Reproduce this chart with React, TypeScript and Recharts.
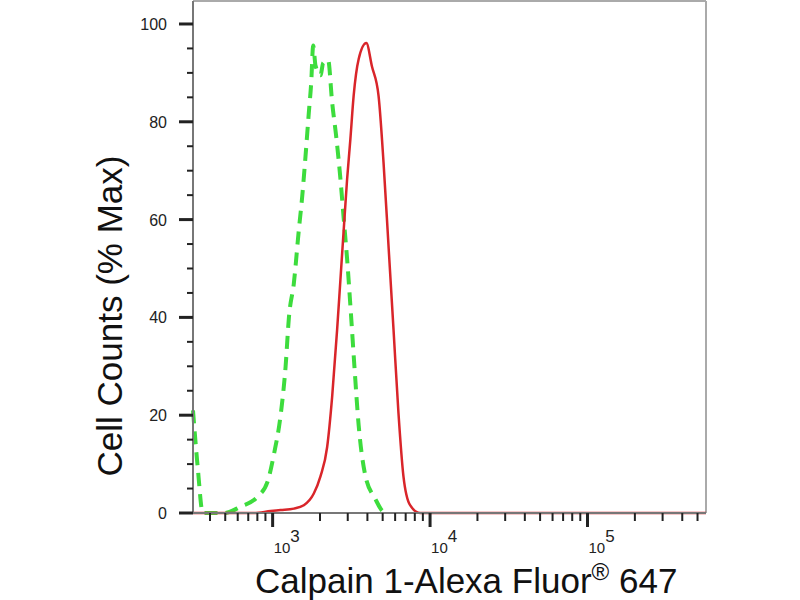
import React from "react";
import { LineChart, Line, XAxis, YAxis, ReferenceLine } from "recharts";

// fluorescence intensity (log) vs % of max
const controlX = [312, 335, 360, 490, 627, 800, 926, 1019, 1124, 1209, 1269, 1364, 1467, 1542, 1618, 1697, 1758, 1810, 1872, 2013, 2094, 2252, 2387, 2542, 2694, 2828, 2971, 3148, 3304, 3518, 3878, 4486, 5063, 5300];
const controlY = [21, 9, 0, 0, 1.3, 3.3, 6.3, 12, 20, 30, 40, 47, 57.9, 64.8, 73, 81.8, 88, 95.6, 91.5, 89.5, 92, 92.6, 84, 76.6, 68.4, 60.2, 52, 40.4, 30.2, 18, 7.7, 2.9, 0.2, 0];

const sampleX = [312, 759, 971, 1124, 1364, 1578, 1826, 2013, 2220, 2387, 2567, 2694, 2828, 2971, 3117, 3270, 3518, 3935, 4276, 4708, 5063, 5447, 5858, 6301, 6776, 7470, 8646, 566000];
const sampleY = [0, 0, 0.4, 0.6, 0.9, 1.6, 4, 7.5, 13.5, 23.7, 37.4, 47.6, 57.9, 68.2, 76.4, 85.3, 92.8, 96.1, 91.3, 85.3, 71.7, 54.6, 37.6, 20.4, 7.5, 1.6, 0, 0];

const yTicks = [0, 5, 10, 15, 20, 25, 30, 35, 40, 45, 50, 55, 60, 65, 70, 75, 80, 85, 90, 95, 100];
const yMajor = [0, 20, 40, 60, 80, 100];
const xTicks = [400, 500, 600, 700, 800, 900, 1000, 2000, 3000, 4000, 5000, 6000, 7000, 8000, 9000, 10000, 20000, 30000, 40000, 50000, 60000, 70000, 80000, 90000, 100000, 200000, 300000, 400000, 500000];
const xMajor: Record<number, string> = { 1000: "3", 10000: "4", 100000: "5" };

const X_MIN = 312;
const X_MAX = 566000;
const Y_MAX = 104.7;

const controlData = controlX.map((x, i) => ({ x, y: controlY[i] }));
const sampleData = sampleX.map((x, i) => ({ x, y: sampleY[i] }));

const FONT = "'Liberation Sans', Arial, sans-serif";

function YTick(props: any) {
  const { x, y, payload } = props;
  const major = yMajor.includes(payload.value);
  return (
    <g>
      <line x1={x - (major ? 14 : 6)} x2={x} y1={y} y2={y} stroke="#222" strokeWidth={major ? 3 : 2} />
      {major && (
        <text x={x - 26} y={y + 6} textAnchor="end" fontSize={16} fontFamily={FONT} fill="#222">
          {payload.value}
        </text>
      )}
    </g>
  );
}

function XTick(props: any) {
  const { x, y, payload } = props;
  const exp = xMajor[payload.value];
  return (
    <g>
      <line x1={x} x2={x} y1={y} y2={y + (exp ? 14 : 8)} stroke="#222" strokeWidth={exp ? 3 : 2} />
      {exp && (
        <text x={x + 1} y={y + 40} fontSize={15} fontFamily={FONT} fill="#222">
          10
          <tspan dy={-11} fontSize={17}>{exp}</tspan>
        </text>
      )}
    </g>
  );
}

export default function App() {
  return (
    <div style={{ position: "absolute", left: 0, top: 0, width: 800, height: 600, background: "#fff" }}>
      <LineChart width={800} height={600} margin={{ top: 1, right: 94, bottom: 0, left: 0 }}>
        <XAxis
          dataKey="x"
          type="number"
          scale="log"
          domain={[X_MIN, X_MAX]}
          ticks={xTicks}
          interval={0}
          tick={(p: any) => <XTick {...p} />}
          tickLine={false}
          tickSize={0}
          tickMargin={0}
          axisLine={{ stroke: "#777", strokeWidth: 2 }}
          height={87}
        />
        <YAxis
          type="number"
          domain={[0, Y_MAX]}
          ticks={yTicks}
          interval={0}
          tick={(p: any) => <YTick {...p} />}
          tickLine={false}
          tickSize={0}
          tickMargin={0}
          axisLine={{ stroke: "#777", strokeWidth: 2 }}
          width={193}
        />
        <ReferenceLine y={Y_MAX} stroke="#aaa" strokeWidth={2} ifOverflow="visible" />
        <ReferenceLine x={X_MAX} stroke="#aaa" strokeWidth={2} ifOverflow="visible" />
        <Line
          data={controlData}
          dataKey="y"
          type="monotone"
          stroke="#3ddc3d"
          strokeWidth={4}
          strokeDasharray="13 8"
          dot={false}
          isAnimationActive={false}
        />
        <Line
          data={sampleData}
          dataKey="y"
          type="monotone"
          stroke="#d9252a"
          strokeWidth={2.5}
          dot={false}
          isAnimationActive={false}
        />
        <text
          transform="translate(122, 316) rotate(-90)"
          textAnchor="middle"
          fontSize={35}
          fontFamily={FONT}
          fill="#111"
        >
          Cell Counts (% Max)
        </text>
        <text x={255} y={593} fontSize={35} fontFamily={FONT} fill="#111">
          Calpain 1-Alexa Fluor
          <tspan dy={-13} fontSize={24}>®</tspan>
          <tspan dy={13}> 647</tspan>
        </text>
      </LineChart>
    </div>
  );
}
